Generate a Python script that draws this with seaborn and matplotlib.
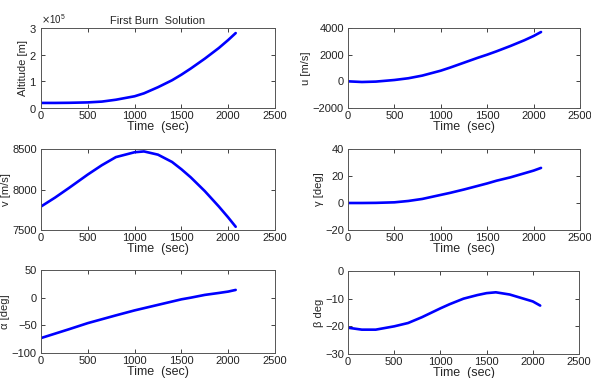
import numpy as np
import pandas as pd
import seaborn as sns
import matplotlib.pyplot as plt
from matplotlib.ticker import ScalarFormatter

# values
time_s = [0, 150, 300, 500, 650, 800, 1000, 1100, 1250, 1400, 1500, 1600, 1750, 1900, 2000, 2080]
altitude_m = [19000, 19000, 19500, 21000, 24000, 31000, 44000, 55000, 78000, 104000, 125000, 148000,
              185000, 225000, 255000, 281000]
u_ms = [0, -50, -20, 100, 230, 430, 800, 1030, 1400, 1770, 2000, 2250, 2650, 3080, 3400, 3700]
v_ms = [7790, 7900, 8020, 8185, 8300, 8400, 8460, 8470, 8430, 8340, 8250, 8150, 7980, 7790, 7655, 7540]
gamma_deg = [0, 0, 0.1, 0.5, 1.5, 3, 6, 7.5, 10, 12.7, 14.5, 16.5, 19, 22, 24, 26]
alpha_deg = [-73, -65, -57, -46, -39, -32, -23, -19, -13, -7, -3, 0, 5, 8.5, 11, 14]
beta_deg = [-20.5, -21.2, -21.2, -20, -18.8, -16.7, -13.5, -12, -10, -8.7, -8, -7.7, -8.5, -10, -11, -12.5]

panels = [
    ("Altitude [m]", altitude_m, (0, 300000), [0, 100000, 200000, 300000]),
    ("u [m/s]", u_ms, (-2000, 4000), [-2000, 0, 2000, 4000]),
    ("v [m/s]", v_ms, (7500, 8500), [7500, 8000, 8500]),
    ("γ [deg]", gamma_deg, (-20, 40), [-20, 0, 20, 40]),
    ("α [deg]", alpha_deg, (-100, 50), [-100, -50, 0, 50]),
    ("β deg", beta_deg, (-30, 0), [-30, -20, -10, 0]),
]

sns.set_style("white")
plt.rcParams['font.family'] = ['Liberation Sans', 'DejaVu Sans']

W, H = 591, 378
fig = plt.figure(figsize=(W / 100, H / 100), dpi=100)

# axes boxes in pixels: left, top, right, bottom
boxes = [(41, 28, 275, 108), (348, 28, 580, 108),
         (41, 149, 275, 230), (348, 149, 580, 230),
         (41, 270, 275, 353), (348, 271, 579, 354)]

for (label, vals, ylim, yticks), (l, t, r, b) in zip(panels, boxes):
    ax = fig.add_axes([l / W, 1 - b / H, (r - l) / W, (b - t) / H])
    df = pd.DataFrame({'t': time_s, 'y': vals})
    sns.lineplot(data=df, x='t', y='y', ax=ax, color='#0000ff', linewidth=1.9)
    ax.set_xlim(0, 2500)
    ax.set_ylim(*ylim)
    ax.set_xticks([0, 500, 1000, 1500, 2000, 2500])
    ax.set_yticks(yticks)
    ax.tick_params(direction='in', bottom=True, left=True, top=True, right=True,
                   length=3, width=0.6, labelsize=8, colors='#222222')
    ax.tick_params(axis='x', pad=2)
    ax.tick_params(axis='y', pad=3)
    for s in ax.spines.values():
        s.set_color('#555555')
        s.set_linewidth(0.7)
    ax.set_xlabel('Time  (sec)', fontsize=9, labelpad=0)
    ax.set_ylabel(label, fontsize=8, labelpad=1)
    if label.startswith('Altitude'):
        fmt = ScalarFormatter(useMathText=True)
        fmt.set_powerlimits((0, 0))
        ax.yaxis.set_major_formatter(fmt)
        ax.yaxis.get_offset_text().set_fontsize(7)
        ax.set_title('First Burn  Solution', fontsize=8, pad=3)

fig.savefig('out.png', dpi=100)
